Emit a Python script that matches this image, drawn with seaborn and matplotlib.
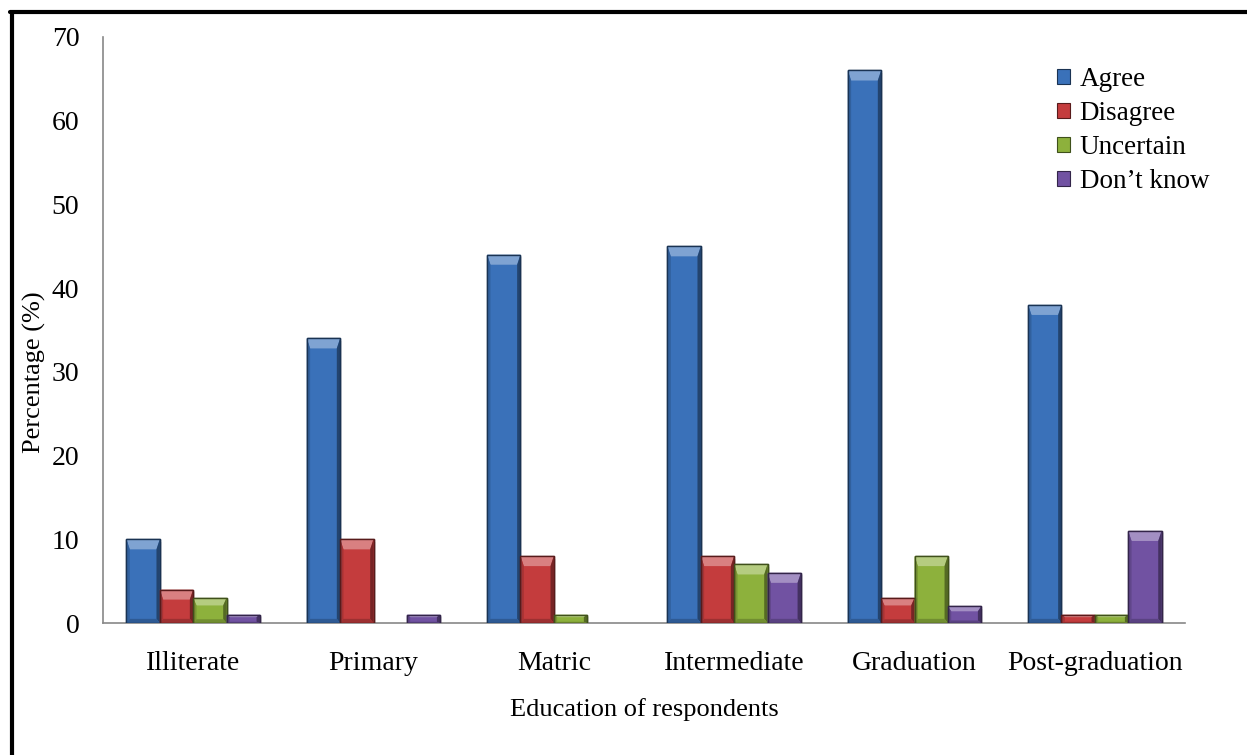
import numpy as np
import pandas as pd
import matplotlib
matplotlib.use("Agg")
import matplotlib.pyplot as plt
from matplotlib.patches import Polygon, Rectangle, Patch
from matplotlib.lines import Line2D
import matplotlib.colors as mcolors
import seaborn as sns

# ---- data ----
categories = ["Illiterate", "Primary", "Matric", "Intermediate", "Graduation", "Post-graduation"]
responses = ["Agree", "Disagree", "Uncertain", "Don\u2019t know"]
agree = [10, 34, 44, 45, 66, 38]
disagree = [4, 10, 8, 8, 3, 1]
uncertain = [3, 0, 1, 7, 8, 1]
dont_know = [1, 1, 0, 6, 2, 11]
y_ticks = [0, 10, 20, 30, 40, 50, 60, 70]

colors = ["#3a71b9", "#c43c3d", "#8db13c", "#7152a2"]

rows = []
for resp, vals in zip(responses, [agree, disagree, uncertain, dont_know]):
    for cat, v in zip(categories, vals):
        rows.append({"Education": cat, "Response": resp, "Percentage": v})
df = pd.DataFrame(rows)

sns.set_theme(style="white")
plt.rcParams["font.family"] = ["Liberation Serif", "DejaVu Serif"]
plt.rcParams["text.color"] = "black"
plt.rcParams["axes.labelcolor"] = "black"
plt.rcParams["xtick.color"] = "black"
plt.rcParams["ytick.color"] = "black"

fig = plt.figure(figsize=(12.47, 7.55), dpi=100)
ax = fig.add_axes([0.0826, 0.1748, 0.8677, 0.7762])

sns.barplot(data=df, x="Education", y="Percentage", hue="Response",
            order=categories, hue_order=responses, palette=colors,
            width=0.74, saturation=1, ax=ax, legend=False, zorder=3)


def shade(c, f):
    r, g, b = mcolors.to_rgb(c)
    if f >= 1:
        return (r + (1 - r) * (f - 1), g + (1 - g) * (f - 1), b + (1 - b) * (f - 1))
    return (r * f, g * f, b * f)


# bevelled look on each bar
bars = [p for p in ax.patches if isinstance(p, Rectangle)]
for p in bars:
    x, y = p.get_x(), p.get_y()
    w, h = p.get_width(), p.get_height()
    if h <= 0:
        p.set_visible(False)
        continue
    base = p.get_facecolor()
    p.set_edgecolor(shade(base, 0.45))
    p.set_linewidth(1.0)
    bx = w * 0.10
    by = min(1.2, h * 0.3)
    byb = min(0.5, h * 0.15)
    # soft shadow
    ax.add_patch(Rectangle((x + w, y), w * 0.06, h - 0.3, facecolor="#000000",
                           alpha=0.08, linewidth=0, zorder=2))
    # top highlight
    ax.add_patch(Polygon([(x, y + h), (x + w, y + h), (x + w - bx, y + h - by),
                          (x + bx, y + h - by)], closed=True,
                         facecolor=shade(base, 1.35), linewidth=0, zorder=4))
    # left and right edges
    ax.add_patch(Polygon([(x, y), (x + bx, y + byb), (x + bx, y + h - by), (x, y + h)],
                         closed=True, facecolor=shade(base, 0.85), linewidth=0, zorder=4))
    ax.add_patch(Polygon([(x + w, y), (x + w - bx, y + byb), (x + w - bx, y + h - by),
                          (x + w, y + h)], closed=True, facecolor=shade(base, 0.6),
                         linewidth=0, zorder=4))
    # bottom edge
    ax.add_patch(Polygon([(x, y), (x + w, y), (x + w - bx, y + byb), (x + bx, y + byb)],
                         closed=True, facecolor=shade(base, 0.8), linewidth=0, zorder=4))
    # outline on top
    ax.add_patch(Rectangle((x, y), w, h, facecolor="none",
                           edgecolor=shade(base, 0.45), linewidth=1.0, zorder=5))

ax.set_xlim(-0.5, len(categories) - 0.5)
ax.set_ylim(0, 70)
ax.set_yticks(y_ticks)
ax.set_yticklabels([str(t) for t in y_ticks], fontsize=20)

# boundary tick marks between categories, labels centred on each group
ax.set_xticks(np.arange(-0.5, len(categories), 1.0))
ax.set_xticklabels([])
ax.set_xticks(np.arange(len(categories)), minor=True)
ax.set_xticklabels(categories, minor=True, fontsize=20)
ax.tick_params(axis="x", which="major", length=9, width=1.2, color="#888888", direction="out")
ax.tick_params(axis="x", which="minor", length=0, pad=20, labelcolor="black")
ax.tick_params(axis="y", length=7, width=1.2, color="#888888", direction="out", pad=10,
               labelcolor="black")

for s in ["top", "right"]:
    ax.spines[s].set_visible(False)
for s in ["left", "bottom"]:
    ax.spines[s].set_color("#888888")
    ax.spines[s].set_linewidth(1.2)

ax.set_xlabel("Education of respondents", fontsize=19, labelpad=16, color="black")
ax.set_ylabel("Percentage (%)", fontsize=19, color="black", va="center")
ax.yaxis.set_label_coords(-0.0638, 0.428)
ax.grid(False)

handles = [Patch(facecolor=c, edgecolor=shade(c, 0.45), linewidth=0.8) for c in colors]
ax.legend(handles, responses, loc="upper right", bbox_to_anchor=(1.045, 0.99),
          frameon=False, fontsize=19.5, handlelength=0.5, handleheight=0.5,
          handletextpad=0.35, labelspacing=0.33, labelcolor="black")

# frame lines along the left and top of the figure
fig.add_artist(Line2D([12 / 1247, 12 / 1247], [0, 1 - 11.5 / 755],
                      transform=fig.transFigure, color="black", linewidth=3))
fig.add_artist(Line2D([10 / 1247, 1], [1 - 11.5 / 755, 1 - 11.5 / 755],
                      transform=fig.transFigure, color="black", linewidth=3))

fig.savefig("out.png", dpi=100)
